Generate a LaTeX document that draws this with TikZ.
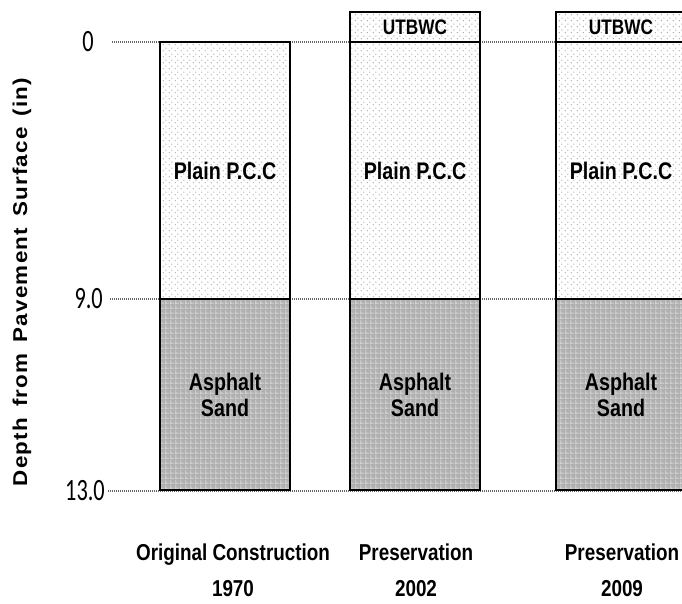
\documentclass[tikz,border=0pt]{standalone}
\usepackage{fontspec}
\setmainfont{Liberation Sans}
\newfontfamily\narrowfont[FakeStretch=0.82]{Liberation Sans}
\newfontfamily\tickfont[FakeStretch=0.72]{Carlito}
\newfontfamily\axisfont[FakeStretch=1.12,LetterSpace=6,WordSpace=1.5]{Liberation Sans}
\usetikzlibrary{positioning,patterns.meta}
\usepackage{xcolor}

% fill patterns of the two layers
\tikzdeclarepattern{
  name=pccdots,
  type=uncolored,
  bottom left={(0pt,0pt)},
  top right={(6pt,6pt)},
  tile size={(6pt,6pt)},
  code={
    \pgfpathcircle{\pgfpoint{1.5pt}{1.5pt}}{0.75pt}
    \pgfpathcircle{\pgfpoint{4.5pt}{4.5pt}}{0.75pt}
    \pgfusepath{fill}
  }
}
\tikzdeclarepattern{
  name=sandgrid,
  type=uncolored,
  bottom left={(0pt,0pt)},
  top right={(5pt,5pt)},
  tile size={(5pt,5pt)},
  code={
    \pgfsetlinewidth{0.8pt}
    \pgfpathmoveto{\pgfpoint{0pt}{1pt}}\pgfpathlineto{\pgfpoint{5pt}{1pt}}
    \pgfpathmoveto{\pgfpoint{1pt}{0pt}}\pgfpathlineto{\pgfpoint{1pt}{5pt}}
    \pgfusepath{stroke}
  }
}

\begin{document}
\begin{tikzpicture}[
    x=1pt, y=-1pt,
    layer/.style={draw, line width=1.2pt, rectangle, inner sep=0pt, outer sep=0pt, minimum width=130pt, align=center, font=\narrowfont\bfseries\fontsize{24}{26}\selectfont},
    pcc/.style={layer, minimum height=257pt, preaction={fill=white}, pattern=pccdots, pattern color=gray!70},
    sand/.style={layer, minimum height=191pt, preaction={fill=gray!62}, pattern=sandgrid, pattern color=white!85!gray},
    wc/.style={layer, minimum height=30pt, font=\narrowfont\bfseries\fontsize{21}{22}\selectfont, preaction={fill=white}, pattern=pccdots, pattern color=gray!70},
    interface/.style={line width=2.2pt},
    tick/.style={anchor=east, inner sep=0pt, font=\tickfont\fontsize{31}{31}\selectfont},
    grid/.style={gray!80!black, line width=1.6pt, dash pattern=on 1pt off 1pt},
    caption/.style={align=center, inner sep=0pt, font=\narrowfont\bfseries\fontsize{23}{36}\selectfont}
]
  \useasboundingbox (0,0) rectangle (682,604);

  % Axis
  \node (tickTop) [tick] at (94,42) {0};
  \node (tickMid) [tick] at (103,299) {9.0};
  \node (tickBot) [tick] at (105,491) {13.0};
  \coordinate (edgeR) at (682,0);
  \draw [grid] ([xshift=18pt]tickTop.east) -- (tickTop -| edgeR);
  \draw [grid] ([xshift=7pt]tickMid.east) -- (tickMid -| edgeR);
  \draw [grid] ([xshift=3pt]tickBot.east) -- (tickBot -| edgeR);
  \node (ylab) [rotate=90, font=\axisfont\bfseries\fontsize{20}{22}\selectfont] at (22,282) {Depth from Pavement Surface (in)};

  % Column 1
  \node (pccOrig) [pcc, anchor=north west] at (160,42) {Plain P.C.C};
  \node (sandOrig) [sand, below=0pt of pccOrig] {Asphalt\\Sand};

  % Column 2
  \node (pccPresA) [pcc, anchor=north west] at (350,42) {Plain P.C.C};
  \node (sandPresA) [sand, below=0pt of pccPresA] {Asphalt\\Sand};
  \node (wcPresA) [wc, above=0pt of pccPresA] {UTBWC};

  % Column 3
  \node (pccPresB) [pcc, anchor=north west] at (556,42) {Plain P.C.C};
  \node (sandPresB) [sand, below=0pt of pccPresB] {Asphalt\\Sand};
  \node (wcPresB) [wc, above=0pt of pccPresB] {UTBWC};

  % Layer interfaces
  \draw [interface] (pccOrig.south west) -- (pccOrig.south east);
  \draw [interface] (pccPresA.south west) -- (pccPresA.south east);
  \draw [interface] (pccPresB.south west) -- (pccPresB.south east);
  \draw [interface] (wcPresA.south west) -- (wcPresA.south east);
  \draw [interface] (wcPresB.south west) -- (wcPresB.south east);

  % Captions
  \node (capOrig) [caption] at (233,570) {Original Construction\\1970};
  \node (capPresA) [caption] at (416,570) {Preservation\\2002};
  \node (capPresB) [caption] at (622,570) {Preservation\\2009};
\end{tikzpicture}
\end{document}
